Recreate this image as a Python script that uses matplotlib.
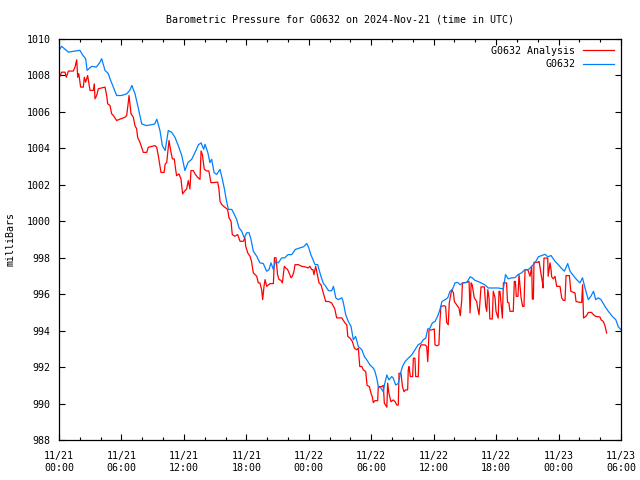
import pandas as pd
import matplotlib
matplotlib.use("Agg")
from matplotlib import pyplot as plt
import matplotlib.dates as mdates

plt.rcParams['font.family'] = 'DejaVu Sans Mono'
plt.rcParams['font.size'] = 7.2

start = pd.Timestamp('2024-11-21 00:00')

# G0632 observations: hours since 11/21 00:00 UTC, pressure [mb]
obs_hours = [0.0, 0.25, 0.9, 1.54, 2.0, 2.3, 2.56, 2.7, 3.14, 3.6, 3.94, 4.1, 4.42, 4.74,
             4.9, 5.22, 5.54, 6.0, 6.5, 6.8, 7.0, 7.3, 7.6, 7.95, 8.4, 8.9, 9.2, 9.4,
             9.7, 9.93, 10.2, 10.5, 10.83, 11.15, 11.46, 11.8, 12.1, 12.4, 12.75, 13.07,
             13.4, 13.65, 13.9, 14.03, 14.3, 14.5, 14.67, 14.9, 15.15, 15.47, 15.7, 15.9,
             16.1, 16.27, 16.6, 16.85, 17.07, 17.3, 17.55, 17.8, 18.04, 18.26, 18.45,
             18.67, 19.0, 19.3, 19.63, 19.95, 20.18, 20.37, 20.6, 20.8, 21.07, 21.4, 21.7,
             22.0, 22.36, 22.7, 23.15, 23.5, 23.8, 24.0, 24.2, 24.4, 24.6, 24.86, 24.98,
             25.17, 25.4, 25.63, 25.9, 26.2, 26.37, 26.6, 26.84, 27.17, 27.3, 27.55, 27.8,
             28.06, 28.28, 28.5, 28.76, 29.1, 29.34, 29.57, 29.88, 30.2, 30.36, 30.53,
             30.68, 30.94, 31.16, 31.3, 31.5, 31.7, 31.97, 32.12, 32.35, 32.6, 32.77, 33.0,
             33.25, 33.56, 33.9, 34.2, 34.5, 34.8, 35.0, 35.24, 35.43, 35.65, 35.87, 36.13,
             36.4, 36.6, 36.8, 37.1, 37.35, 37.57, 37.8, 38.05, 38.3, 38.53, 38.85, 39.18,
             39.5, 39.7, 39.97, 40.45, 40.9, 41.25, 41.7, 42.2, 42.7, 42.9, 43.17, 43.5,
             43.8, 44.1, 44.45, 44.78, 45.1, 45.42, 45.74, 46.06, 46.38, 46.7, 46.96, 47.28,
             47.66, 47.98, 48.24, 48.56, 48.88, 49.1, 49.42, 49.74, 50.06, 50.3, 50.54,
             50.86, 51.1, 51.36, 51.57, 51.82, 52.08, 52.46, 52.78, 53.17, 53.5, 53.75, 54.0]
obs_mb = [1009.38, 1009.6, 1009.28, 1009.34, 1009.38, 1009.1, 1008.92, 1008.28, 1008.5,
          1008.46, 1008.73, 1008.92, 1008.28, 1008.1, 1007.82, 1007.36, 1006.9, 1006.9,
          1006.99, 1007.18, 1007.45, 1007.0, 1006.26, 1005.34, 1005.25, 1005.3, 1005.34,
          1005.6, 1004.98, 1004.15, 1003.88, 1004.98, 1004.88, 1004.6, 1004.15, 1003.6,
          1002.78, 1003.23, 1003.4, 1003.78, 1004.2, 1004.3, 1003.95, 1004.22, 1003.77,
          1003.22, 1003.4, 1002.67, 1002.57, 1002.85, 1002.3, 1001.75, 1001.1, 1000.65,
          1000.65, 1000.37, 1000.1, 999.64, 999.46, 999.09, 999.37, 999.37, 999.0, 998.36,
          998.08, 997.72, 997.68, 997.26, 997.35, 997.72, 997.35, 997.8, 997.72, 997.99,
          998.0, 998.17, 998.17, 998.45, 998.54, 998.6, 998.78, 998.54, 998.17, 997.9,
          997.62, 997.62, 997.35, 996.98, 996.6, 996.43, 996.19, 996.19, 996.43, 995.79,
          995.7, 995.8, 995.6, 994.87, 994.5, 994.23, 993.5, 993.68, 993.13, 992.95,
          992.58, 992.4, 992.12, 991.94, 991.76, 991.39, 990.93, 990.84, 990.65, 991.1,
          991.57, 991.3, 991.48, 991.39, 991.02, 991.1, 991.57, 992.03, 992.3, 992.49,
          992.67, 992.95, 993.22, 993.32, 993.5, 993.59, 994.09, 994.14, 994.42, 994.5,
          994.82, 995.15, 995.6, 995.7, 995.8, 996.16, 996.25, 996.62, 996.65, 996.52,
          996.62, 996.65, 996.95, 996.9, 996.76, 996.65, 996.52, 996.34, 996.34, 996.34,
          996.29, 997.07, 996.84, 996.9, 996.9, 997.07, 997.17, 997.35, 997.35, 997.53,
          997.72, 998.05, 998.12, 998.19, 998.05, 998.12, 997.8, 997.62, 997.44, 997.26,
          997.68, 997.26, 997.02, 996.8, 996.62, 996.9, 996.34, 995.7, 995.88, 996.16,
          995.7, 995.8, 995.7, 995.33, 995.06, 994.78, 994.6, 994.2, 994.05]

# G0632 Analysis
ana_hours = [0.0, 0.05, 0.25, 0.58, 0.7, 0.9, 1.37, 1.54, 1.7, 1.8, 1.9, 2.08, 2.34, 2.43,
             2.56, 2.75, 2.98, 3.3, 3.39, 3.46, 3.62, 3.78, 4.42, 4.58, 4.68, 4.9, 5.06,
             5.22, 5.54, 6.34, 6.5, 6.66, 6.73, 6.92, 7.14, 7.3, 7.46, 7.56, 7.78, 7.94,
             8.1, 8.43, 8.58, 9.22, 9.39, 9.54, 9.8, 10.1, 10.2, 10.35, 10.57, 10.76, 10.9,
             11.08, 11.2, 11.3, 11.53, 11.72, 11.88, 12.1, 12.27, 12.42, 12.58, 12.68, 12.9,
             13.07, 13.32, 13.55, 13.65, 13.77, 13.96, 14.2, 14.4, 14.6, 14.83, 15.25,
             15.37, 15.47, 15.63, 15.8, 16.0, 16.2, 16.33, 16.53, 16.65, 16.9, 17.16, 17.4,
             17.7, 17.87, 17.94, 18.13, 18.35, 18.5, 18.67, 19.0, 19.15, 19.3, 19.47, 19.57,
             19.7, 19.8, 19.96, 20.27, 20.6, 20.7, 20.85, 21.0, 21.14, 21.33, 21.46, 21.65,
             21.78, 21.97, 22.1, 22.3, 22.42, 22.58, 22.68, 23.0, 23.3, 23.64, 23.95, 24.1,
             24.28, 24.4, 24.5, 24.66, 24.86, 24.98, 25.17, 25.4, 25.63, 25.9, 26.2, 26.5,
             26.68, 27.17, 27.48, 27.65, 27.75, 27.96, 28.18, 28.38, 28.6, 28.76, 28.9,
             29.1, 29.24, 29.47, 29.6, 29.82, 29.98, 30.1, 30.2, 30.36, 30.62, 30.68, 31.0,
             31.16, 31.26, 31.38, 31.5, 31.58, 31.7, 31.9, 32.12, 32.3, 32.45, 32.6, 32.67,
             32.86, 33.0, 33.15, 33.3, 33.5, 33.56, 33.63, 33.76, 33.98, 34.05, 34.2, 34.27,
             34.52, 34.6, 34.78, 35.17, 35.33, 35.43, 35.49, 35.55, 35.8, 36.06, 36.13,
             36.3, 36.5, 36.6, 36.7, 37.0, 37.15, 37.25, 37.4, 37.5, 37.73, 37.9, 37.99,
             38.2, 38.43, 38.56, 38.7, 38.76, 39.18, 39.4, 39.5, 39.6, 39.7, 39.9, 40.13,
             40.23, 40.36, 40.45, 40.55, 40.87, 41.0, 41.1, 41.2, 41.32, 41.4, 41.63, 41.73,
             41.9, 41.99, 42.09, 42.2, 42.28, 42.37, 42.47, 42.6, 42.7, 43.0, 43.1, 43.23,
             43.33, 43.65, 43.75, 43.85, 43.94, 44.1, 44.2, 44.4, 44.55, 44.68, 44.78, 45.04,
             45.1, 45.26, 45.42, 45.48, 45.58, 45.64, 46.03, 46.13, 46.3, 46.46, 46.5, 46.6,
             46.96, 47.0, 47.18, 47.28, 47.34, 47.5, 47.66, 47.82, 48.14, 48.3, 48.46, 48.62,
             48.72, 49.04, 49.18, 49.42, 49.58, 49.68, 50.06, 50.22, 50.31, 50.4, 50.69,
             50.86, 51.17, 51.36, 51.57, 51.98, 52.08, 52.3, 52.46, 52.62]
ana_mb = [1008.73, 1007.9, 1008.18, 1008.18, 1007.9, 1008.24, 1008.24, 1008.46, 1008.86,
          1007.9, 1008.1, 1007.36, 1007.36, 1007.9, 1007.63, 1008.0, 1007.18, 1007.18,
          1007.54, 1006.72, 1006.9, 1007.27, 1007.36, 1006.9, 1006.44, 1006.35, 1005.9,
          1005.8, 1005.53, 1005.71, 1005.8, 1006.53, 1006.9, 1005.9, 1005.71, 1005.25,
          1005.07, 1004.6, 1004.33, 1004.06, 1003.78, 1003.78, 1004.06, 1004.15, 1004.06,
          1003.6, 1002.68, 1002.68, 1003.14, 1003.23, 1004.43, 1003.78, 1003.42, 1003.42,
          1002.87, 1002.5, 1002.6, 1002.32, 1001.5, 1001.68, 1001.77, 1002.23, 1001.77,
          1002.78, 1002.78, 1002.6, 1002.41, 1002.3, 1003.86, 1003.67, 1002.85, 1002.76,
          1002.76, 1002.12, 1002.12, 1002.15, 1001.75, 1001.1, 1000.92, 1000.83, 1000.74,
          1000.65, 1000.19, 1000.0, 999.27, 999.18, 999.27, 998.9, 998.9, 999.09, 998.63,
          998.27, 998.08, 997.8, 997.17, 996.98, 996.62, 996.62, 996.25, 995.7, 996.43,
          996.8, 996.43, 996.58, 996.58, 998.0, 998.0, 997.07, 996.8, 996.76, 996.62,
          997.53, 997.44, 997.35, 997.17, 996.9, 996.98, 997.26, 997.62, 997.62, 997.53,
          997.5, 997.44, 997.53, 997.35, 997.35, 997.07, 997.53, 996.98, 996.62, 996.52,
          996.07, 995.6, 995.6, 995.52, 995.19, 994.7, 994.7, 994.42, 994.32, 993.68,
          993.59, 993.41, 993.04, 992.95, 993.04, 992.03, 992.03, 991.85, 991.76, 991.0,
          990.93, 990.56, 990.38, 990.05, 990.16, 990.16, 990.93, 990.93, 991.0, 990.02,
          989.92, 989.8, 991.12, 990.56, 990.1, 990.2, 990.1, 989.92, 989.92, 991.66,
          991.66, 990.93, 990.65, 990.75, 990.75, 991.85, 992.03, 991.48, 991.48, 992.49,
          992.49, 991.48, 991.48, 992.95, 993.22, 993.22, 993.13, 992.3, 992.95, 994.04,
          994.04, 994.09, 993.22, 993.17, 993.22, 994.5, 995.33, 995.37, 995.33, 994.45,
          994.32, 995.52, 996.25, 996.07, 995.6, 995.42, 995.24, 994.82, 995.7, 996.62,
          996.65, 996.7, 994.97, 996.62, 996.52, 995.8, 995.6, 995.24, 994.87, 995.6,
          996.4, 996.4, 995.33, 995.06, 996.25, 995.8, 994.64, 994.64, 996.16, 995.8,
          995.06, 994.87, 994.69, 996.16, 996.16, 995.52, 994.69, 996.62, 996.62, 995.55,
          995.52, 995.06, 995.06, 996.7, 996.7, 995.88, 995.88, 997.07, 995.8, 995.33,
          995.33, 997.35, 997.33, 997.26, 996.98, 997.53, 995.73, 995.73, 997.75, 997.75,
          997.8, 997.17, 996.62, 996.34, 997.98, 997.98, 996.98, 997.72, 997.35, 996.95,
          996.84, 996.98, 996.43, 996.43, 995.8, 995.66, 995.66, 997.02, 997.02, 996.16,
          996.1, 996.07, 995.6, 995.55, 995.55, 996.52, 994.69, 994.82, 995.0, 995.0,
          994.87, 994.78, 994.75, 994.6, 994.5, 994.27, 993.87]

obs_time = [start + pd.Timedelta(hours=h) for h in obs_hours]
ana_time = [start + pd.Timedelta(hours=h) for h in ana_hours]

fig = plt.figure(figsize=(6.4, 4.8), dpi=100)
ax = fig.add_axes([59 / 640, 40 / 480, 562 / 640, 401 / 480])

ax.plot(ana_time, ana_mb, color='#ff0000', lw=0.9, label='G0632 Analysis')
ax.plot(obs_time, obs_mb, color='#0080ff', lw=0.9, label='G0632')

ax.set_xlim(start, start + pd.Timedelta(hours=54))
ax.set_ylim(988, 1010)
ax.set_yticks(range(988, 1011, 2))

ax.xaxis.set_major_locator(mdates.HourLocator(byhour=[0, 6, 12, 18]))
ax.xaxis.set_minor_locator(mdates.HourLocator(interval=2))
ax.xaxis.set_major_formatter(mdates.DateFormatter('%m/%d\n%H:%M'))

ax.tick_params(which='both', direction='in', top=True, right=True, color='black')
ax.tick_params(which='major', length=4, width=0.8, pad=6)
ax.tick_params(which='minor', length=2, width=0.8)
ax.tick_params(axis='x', which='major', pad=8)
for s in ax.spines.values():
    s.set_linewidth(0.9)

plt.ylabel('milliBars', labelpad=8)
plt.title('Barometric Pressure for G0632 on 2024-Nov-21 (time in UTC)', pad=12,
          fontsize=7.2)

ax.legend(loc='upper right', frameon=False, markerfirst=False, handlelength=3.1,
          borderaxespad=0.3, labelspacing=0.35, handletextpad=0.8)

fig.savefig('out.png', dpi=100)
